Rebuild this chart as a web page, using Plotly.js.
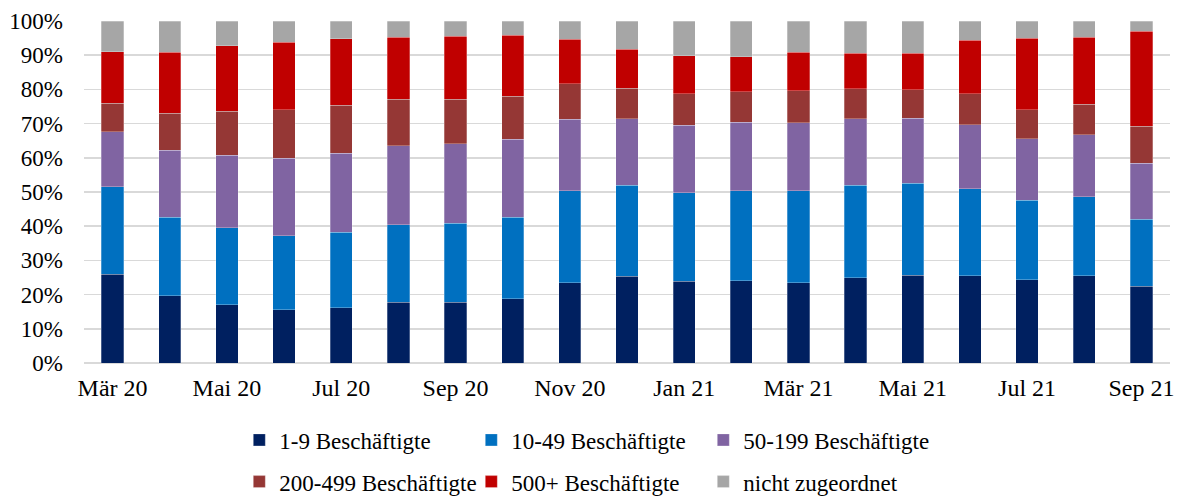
<!DOCTYPE html>
<html>
<head>
<meta charset="utf-8">
<script src="https://cdn.plot.ly/plotly-3.0.1.min.js"></script>
<style>
html,body{margin:0;padding:0;background:#fff;}
#chart text{font-family:'Liberation Serif','Times New Roman',serif !important;}
</style>
</head>
<body>
<div id="chart" style="width:1179px;height:497px"></div>
<script>
const months = ["Mär 20","Apr 20","Mai 20","Jun 20","Jul 20","Aug 20","Sep 20","Okt 20","Nov 20","Dez 20",
                "Jan 21","Feb 21","Mär 21","Apr 21","Mai 21","Jun 21","Jul 21","Aug 21","Sep 21"];
const tickLabels = ["Mär 20","Mai 20","Jul 20","Sep 20","Nov 20","Jan 21","Mär 21","Mai 21","Jul 21","Sep 21"];

const s1_9     = [26.0,19.6,17.0,15.5,16.1,17.7,17.7,18.8,23.4,25.3,23.9,24.1,23.5,25.0,25.6,25.5,24.4,25.5,22.4];
const s10_49   = [25.5,23.0,22.6,21.7,22.1,22.7,23.1,23.8,27.0,26.7,25.9,26.3,26.9,27.0,26.9,25.5,23.2,23.1,19.6];
const s50_199  = [16.1,19.6,21.2,22.6,23.1,23.1,23.3,22.8,20.9,19.4,19.7,20.0,19.8,19.4,19.1,18.7,17.9,18.1,16.4];
const s200_499 = [ 8.4,10.8,12.8,14.2,14.1,13.6,13.0,12.6,10.3, 9.0, 9.2, 8.9, 9.4, 8.8, 8.3, 9.0, 8.5, 9.0,10.8];
const s500     = [15.0,17.8,19.2,19.8,19.4,18.2,18.4,17.8,13.1,11.4,11.2,10.3,11.2,10.4,10.7,15.6,20.9,19.5,27.8];
const sNone    = [ 9.0, 9.2, 7.2, 6.2, 5.2, 4.7, 4.5, 4.2, 5.3, 8.2,10.1,10.4, 9.2, 9.4, 9.4, 5.7, 5.1, 4.8, 3.0];

const seriesNames = ["1-9 Beschäftigte","10-49 Beschäftigte","50-199 Beschäftigte",
                     "200-499 Beschäftigte","500+ Beschäftigte","nicht zugeordnet"];
const seriesValues = [s1_9, s10_49, s50_199, s200_499, s500, sNone];
const colors = ["#002060","#0070C0","#8064A2","#953735","#C00000","#A6A6A6"];

const SERIF = "'Liberation Serif', 'Times New Roman', serif";

function buildTraces() {
  return seriesValues.map((vals, i) => ({
    type: "bar",
    name: seriesNames[i],
    x: months,
    y: vals,
    marker: {color: colors[i], line: {color: "rgba(255,255,255,0.45)", width: 0.6}},
    legend: i < 3 ? "legend" : "legend2",
    hoverinfo: "skip"
  }));
}

function buildLayout() {
  const legendCommon = {
    orientation: "h",
    xanchor: "left",
    yanchor: "middle",
    x: 0.143,
    font: {size: 23},
    entrywidth: 187,
    entrywidthmode: "pixels",
    itemwidth: 30,
    traceorder: "normal",
    bgcolor: "rgba(0,0,0,0)"
  };
  return {
    width: 1179,
    height: 497,
    margin: {l: 84, r: 9, t: 21, b: 134, autoexpand: false},
    paper_bgcolor: "#fff",
    plot_bgcolor: "#fff",
    barmode: "stack",
    barnorm: "percent",
    bargap: 0.61,
    font: {family: "Liberation Serif", size: 24, color: "#000"},
    xaxis: {
      type: "category",
      categoryorder: "array",
      categoryarray: months,
      tickmode: "array",
      tickvals: tickLabels,
      ticktext: tickLabels,
      ticks: "",
      showgrid: false,
      showline: false,
      zeroline: false,
      tickangle: 0,
      ticklabelstandoff: 8,
      tickfont: {size: 24}
    },
    yaxis: {
      range: [0, 100],
      tickvals: [0,10,20,30,40,50,60,70,80,90,100],
      ticktext: ["0%","10%","20%","30%","40%","50%","60%","70%","80%","90%","100%"],
      showgrid: true,
      gridcolor: "#D9D9D9",
      gridwidth: 1.5,
      zeroline: true,
      zerolinecolor: "#D9D9D9",
      zerolinewidth: 1.5,
      showline: false,
      ticks: "",
      ticklabelstandoff: 20,
      tickfont: {size: 23}
    },
    legend: Object.assign({}, legendCommon, {y: -0.225}),
    legend2: Object.assign({}, legendCommon, {y: -0.347}),
    showlegend: true
  };
}

function forceSerif() {
  document.querySelectorAll("#chart text").forEach(function (t) {
    t.style.setProperty("font-family", SERIF, "important");
  });
}

Plotly.newPlot("chart", buildTraces(), buildLayout(), {staticPlot: true}).then(forceSerif);
forceSerif();
</script>
</body>
</html>
